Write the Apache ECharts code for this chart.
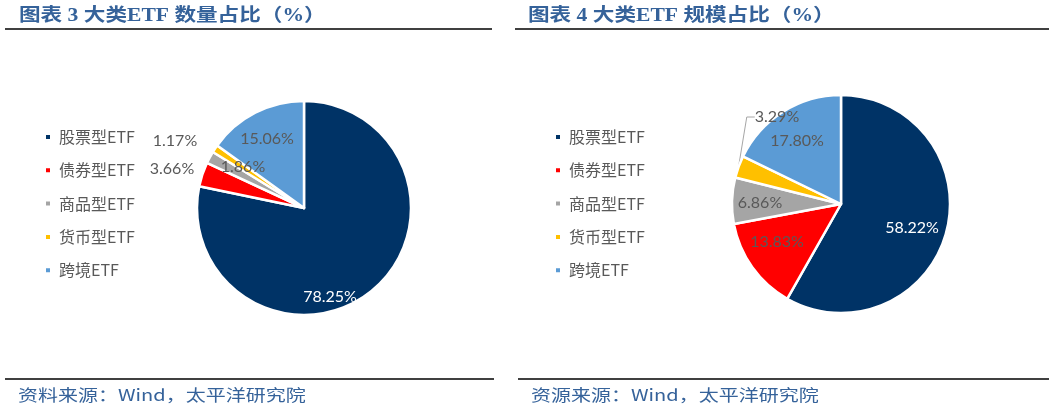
<!DOCTYPE html>
<html><head><meta charset="utf-8">
<script src="https://cdn.jsdelivr.net/npm/echarts@6/dist/echarts.min.js"></script>
<style>html,body{margin:0;padding:0;background:#fff}#c{width:1049px;height:411px}</style>
</head><body><div id="c"></div>
<script>
const categories = ['股票型ETF', '债券型ETF', '商品型ETF', '货币型ETF', '跨境ETF'];
const countShare = [78.25, 3.66, 1.86, 1.17, 15.06];
const scaleShare = [58.22, 13.83, 6.86, 3.29, 17.80];
const titleLeft = '图表 3 大类ETF 数量占比（%）';
const titleRight = '图表 4 大类ETF 规模占比（%）';
const footLeft = '资料来源：Wind，太平洋研究院';
const footRight = '资源来源：Wind，太平洋研究院';

const colors = ['#003366', '#FF0000', '#A5A5A5', '#FFC000', '#5B9BD5'];
const leftCenter = [304, 208], rightCenter = [841, 204];
const leftLabelOffsets = [[26, 89], [-132, -39], [-61, -41], [-129, -67], [-37, -69]];
const rightLabelOffsets = [[71, 24], [-64, 38], [-81, -1], [-64, -87], [-44, -63]];
const leftOutside = [false, true, false, true, false];
const rightOutside = [false, false, false, true, false];
const rightLeader = [false, false, false, true, false];

const blue = '#35629A';
const labelFont = "Lato, 'Noto Sans CJK SC', sans-serif";

function buildData(values, outside, leader) {
  return categories.map((n, i) => ({
    name: n,
    value: values[i],
    label: {
      position: outside[i] ? 'outside' : 'inside',
      color: i === 0 ? '#FFFFFF' : '#595959'
    },
    labelLine: { show: !!(leader && leader[i]) }
  }));
}

function pieSeries(values, center, radius, offsets, outside, leader) {
  return {
    type: 'pie',
    center: center,
    radius: radius,
    startAngle: 90,
    clockwise: true,
    avoidLabelOverlap: false,
    silent: true,
    itemStyle: { borderColor: '#FFFFFF', borderWidth: 2.5 },
    label: {
      show: true,
      fontFamily: labelFont,
      fontSize: 16,
      formatter: p => p.value.toFixed(2) + '%'
    },
    labelLine: { show: false, length: 8, length2: 8, lineStyle: { color: '#A6A6A6', width: 1 } },
    labelLayout: p => {
      const o = offsets[p.dataIndex];
      return { x: center[0] + o[0], y: center[1] + o[1], align: 'center', verticalAlign: 'middle' };
    },
    data: buildData(values, outside, leader)
  };
}

function legend(left) {
  return {
    orient: 'vertical',
    left: left,
    top: 124,
    itemWidth: 6,
    itemHeight: 6,
    itemGap: 17.3,
    icon: 'rect',
    selectedMode: false,
    data: categories,
    textStyle: { fontSize: 16, color: '#595959', fontFamily: "'Noto Sans CJK SC', sans-serif", lineHeight: 16, padding: [0, 0, 0, 3] }
  };
}

function hline(x1, x2, y) {
  return { type: 'line', silent: true, shape: { x1: x1, y1: y, x2: x2, y2: y }, style: { stroke: '#000', lineWidth: 1.5 } };
}
function titleText(x, y, text) {
  return { type: 'text', x: x, y: y, scaleX: 1.2, silent: true,
    style: { text: text, fill: blue, font: "bold 18px 'Liberation Serif', 'Noto Sans CJK SC', serif", textAlign: 'left', textVerticalAlign: 'middle' } };
}
function footText(x, y, text) {
  return { type: 'text', x: x, y: y, scaleX: 1.25, silent: true,
    style: { text: text, fill: blue, font: "16px 'Noto Sans CJK SC', sans-serif", textAlign: 'left', textVerticalAlign: 'middle' } };
}

const chart = echarts.init(document.getElementById('c'), null, { renderer: 'canvas' });
chart.setOption({
  backgroundColor: '#FFFFFF',
  animation: false,
  color: colors,
  legend: [legend(39), legend(549)],
  series: [
    pieSeries(countShare, leftCenter, 107, leftLabelOffsets, leftOutside, null),
    pieSeries(scaleShare, rightCenter, 109, rightLabelOffsets, rightOutside, rightLeader)
  ],
  graphic: [
    titleText(19, 16, titleLeft),
    titleText(528, 16, titleRight),
    hline(5, 492, 29),
    hline(515, 1049, 29),
    hline(5, 494, 379),
    hline(518, 1049, 379),
    footText(18, 395, footLeft),
    footText(531, 395, footRight)
  ]
});
</script>
</body></html>
